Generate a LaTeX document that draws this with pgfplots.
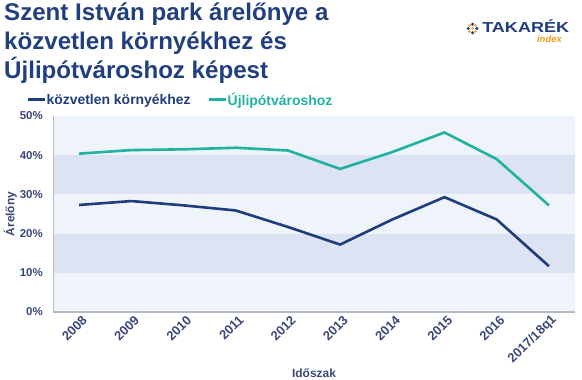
\documentclass[border=0pt]{standalone}
\usepackage{pgfplots}
\pgfplotsset{compat=1.18}
\usepackage{fontspec}
\setmainfont{Liberation Sans}
\definecolor{navy}{HTML}{1F3C7C}
\definecolor{titlec}{HTML}{213F7E}
\definecolor{tealc}{HTML}{1FB2A0}
\definecolor{lbl}{HTML}{3A4878}
\definecolor{bandL}{HTML}{EFF3FA}
\definecolor{bandD}{HTML}{DCE3F2}
\definecolor{axisgray}{HTML}{B3BBC9}
\definecolor{orng}{HTML}{F39A1E}

\pgfplotstableread{
x y
0 27.3
1 28.3
2 27.2
3 25.9
4 21.7
5 17.2
6 23.6
7 29.3
8 23.6
9 11.7
}\kozvetlen
\pgfplotstableread{
x y
0 40.4
1 41.3
2 41.5
3 41.9
4 41.2
5 36.5
6 40.8
7 45.8
8 39.0
9 27.2
}\ujlipot

\begin{document}
\begin{tikzpicture}
\path[use as bounding box] (0bp,0bp) rectangle (582bp,380bp);
% title
\begin{scope}[every node/.style={anchor=base west, text=titlec, inner sep=0, font=\fontsize{24.2}{29}\selectfont\bfseries}]
\node at (4bp,359.3bp) {Szent István park árelőnye a};
\node at (4bp,330.3bp) {közvetlen környékhez és};
\node at (4bp,301.3bp) {Újlipótvároshoz képest};
\end{scope}
% logo
\foreach \a in {0,90,180,270}{
  \fill[navy] (472.5bp,351.5bp) ++(\a:4.3bp) circle (1.7bp);
  \fill[orng] (472.5bp,351.5bp) ++(\a+45:4.3bp) circle (1.4bp);
}
\fill[orng] (472.5bp,351.5bp) circle (1.3bp);
\node[anchor=base west, inner sep=0, text=navy, xscale=1.25, font=\fontsize{14.5}{15}\selectfont\bfseries] at (482bp,347bp) {TAKARÉK};
\node[anchor=base east, inner sep=0, text=orng, font=\fontsize{9.5}{10}\selectfont\bfseries\itshape] at (562bp,337.5bp) {index};

\begin{axis}[
  at={(53bp,68bp)}, anchor=south west,
  scale only axis, width=522bp, height=196bp,
  xmin=-0.5, xmax=9.5, ymin=0, ymax=50,
  axis background/.style={fill=bandL},
  axis on top,
  axis x line=bottom, axis y line=left,
  axis line style={-},
  x axis line style={draw=axisgray, line width=1.5bp},
  y axis line style={draw=axisgray, line width=0.8bp},
  major tick length=0,
  xtick={0,...,9},
  xticklabels={2008,2009,2010,2011,2012,2013,2014,2015,2016,2017/18q1},
  ytick={0,10,...,50},
  yticklabel={\pgfmathprintnumber{\tick}\%},
  /pgf/number format/assume math mode=true,
  ticklabel style={text=lbl, font=\fontsize{11.5}{13}\selectfont\bfseries},
  xticklabel style={rotate=45, anchor=east, inner sep=1bp, yshift=-8bp, xshift=1bp, font=\fontsize{13}{14}\selectfont\bfseries},
  yticklabel style={inner sep=2bp, xshift=-8bp},
  xlabel={Időszak},
  ylabel={Árelőny},
  label style={text=lbl, font=\fontsize{12}{14}\selectfont\bfseries},
  xlabel style={at={(axis description cs:0.5,-0.311)}, anchor=center},
  ylabel style={at={(axis description cs:-0.082,0.5)}, anchor=center},
  legend columns=2,
  legend cell align=left,
  legend style={at={(axis description cs:-0.052,1.082)}, anchor=west, draw=none, fill=none, inner sep=0,
    font=\fontsize{14}{16}\selectfont\bfseries,
    nodes={inner sep=0.5bp},
    /tikz/every even column/.append style={column sep=16bp}},
  legend image code/.code={\draw[#1, line width=3bp] (0,0) -- (17bp,0);},
]
\fill[bandD] (axis cs:-0.5,10) rectangle (axis cs:9.5,20);
\fill[bandD] (axis cs:-0.5,30) rectangle (axis cs:9.5,40);
\addplot[navy, line width=2.6bp, line join=round] table[x=x,y=y] {\kozvetlen};
\addlegendentry[text=navy]{közvetlen környékhez}
\addplot[tealc, line width=2.6bp, line join=round] table[x=x,y=y] {\ujlipot};
\addlegendentry[text=tealc]{Újlipótvároshoz}
\end{axis}
\end{tikzpicture}
\end{document}
